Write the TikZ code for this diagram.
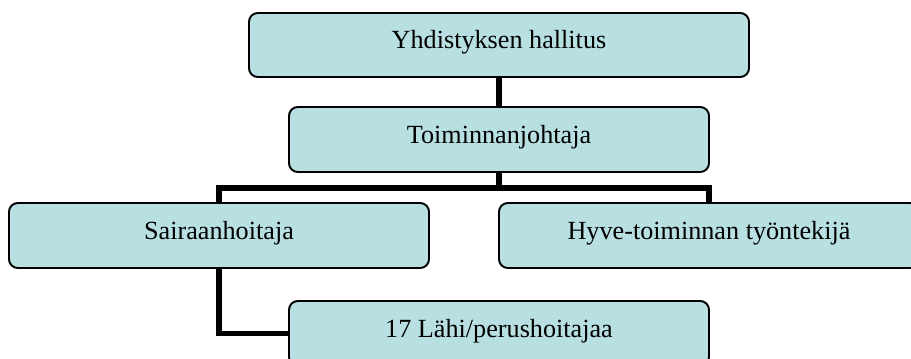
\documentclass[tikz,border=0pt]{standalone}
\usepackage{fontspec}
\setmainfont{Liberation Serif}
\definecolor{Turkoosi}{HTML}{B8DFE2}

\begin{document}
\begin{tikzpicture}[
  every node/.style={font=\fontsize{14.9pt}{18pt}\selectfont},
  laatikko/.style={draw=black,line width=1.1pt,fill=Turkoosi,rounded corners=5pt,
    minimum width=8.4cm,minimum height=1.3cm,inner sep=0pt,
    text height=0.64cm,text depth=0.5cm},
  linja/.style={line width=2.9pt,draw=black}
]
  \useasboundingbox (0,0) rectangle (18.22,-7.16);
  \clip (0,0) rectangle (18.22,-7.16);

  \node[laatikko,minimum width=10cm,minimum height=1.28cm] (hallitus) at (9.98,-0.90)
    {Yhdistyksen hallitus};
  \node[laatikko] (johtaja) at (9.98,-2.79) {Toiminnanjohtaja};
  \node[laatikko] (sairaan) at (4.38,-4.71) {Sairaanhoitaja};
  \node[laatikko] (hyve) at (14.18,-4.71) {Hyve-toiminnan työntekijä};
  \node[laatikko] (lahi) at (9.98,-6.67) {17 Lähi/perushoitajaa};

  \coordinate (haara) at (9.98,-3.76);
  \draw[linja] (hallitus.south) -- (johtaja.north);
  \draw[linja] (johtaja.south) -- (haara);
  \draw[linja] (sairaan.north) |- (haara) -| (hyve.north);
  \draw[linja] (sairaan.south) |- (lahi.west);
\end{tikzpicture}
\end{document}
